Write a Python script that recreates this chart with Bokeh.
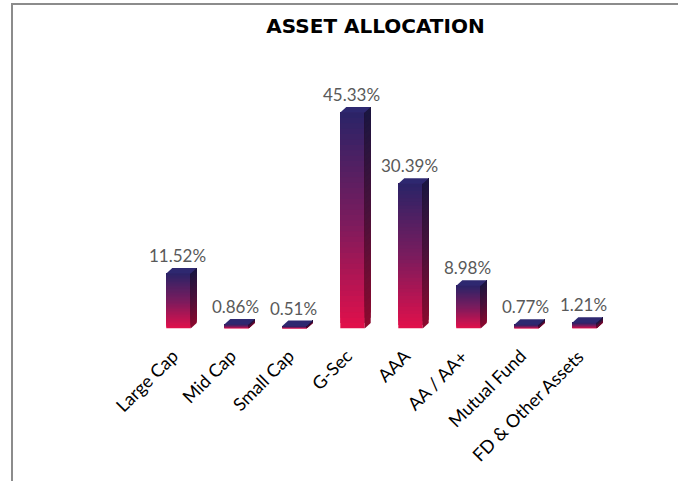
import math
from bokeh.plotting import figure
from bokeh.models import Range1d, FixedTicker
from bokeh.core.properties import value
from bokeh.embed import file_html
from bokeh.resources import INLINE

categories = ["Large Cap", "Mid Cap", "Small Cap", "G-Sec", "AAA", "AA / AA+",
              "Mutual Fund", "FD & Other Assets"]
values = [11.52, 0.86, 0.51, 45.33, 30.39, 8.98, 0.77, 1.21]
labels = ["11.52%", "0.86%", "0.51%", "45.33%", "30.39%", "8.98%", "0.77%", "1.21%"]

BAR_SHIFT = 4 / 58   # bars sit slightly right of the category tick

W, H = 667, 478
x0 = -90 / 58 + BAR_SHIFT
p = figure(width=W, height=H, output_backend="svg", toolbar_location=None,
           x_range=Range1d(x0, x0 + 574 / 58),
           y_range=Range1d(0, 286 / 4.765),
           min_border_left=75, min_border_right=18,
           min_border_top=37, min_border_bottom=155)
p.styles = {"border-top": "2px solid #8c8c8c", "border-left": "2px solid #8c8c8c",
            "margin-left": "11px", "margin-top": "3px"}

p.title.text = "ASSET ALLOCATION"
p.title.text_font = "DejaVu Sans"
p.title.text_font_style = "bold"
p.title.text_font_size = "20px"
p.title.text_color = "#000000"
p.title.align = "center"

p.outline_line_color = None
p.grid.visible = False
p.yaxis.visible = False
p.background_fill_color = "white"
p.border_fill_color = "white"

ax = p.xaxis[0]
ax.ticker = FixedTicker(ticks=list(range(len(categories))))
ax.major_label_overrides = {i: c for i, c in enumerate(categories)}
ax.major_label_orientation = math.pi / 4
ax.axis_line_color = None
ax.major_tick_line_color = None
ax.minor_tick_line_color = None
ax.major_tick_out = 0
ax.major_tick_in = 0
ax.major_label_standoff = 24
ax.major_label_text_font = "Lato"
ax.major_label_text_font_size = "18px"
ax.major_label_text_color = "#000000"

# colour stops bottom -> top
stops = [(0.0, (227, 16, 75)), (0.5, (122, 28, 94)), (1.0, (42, 36, 104))]


def grad(t, shade=1.0):
    for (t0, c0), (t1, c1) in zip(stops[:-1], stops[1:]):
        if t <= t1:
            f = (t - t0) / (t1 - t0) if t1 > t0 else 0
            c = [c0[k] + (c1[k] - c0[k]) * f for k in range(3)]
            break
    return "#%02x%02x%02x" % tuple(int(max(0, min(255, v * shade))) for v in c)


hw = 12.2 / 58      # half front width (data units)
dx = 6.0 / 58       # depth in x
dy = 5.5 / 4.765    # depth in y
N = 40

fl, fr, fb, ft, fc = [], [], [], [], []
sx, sy, sc = [], [], []
tx, ty = [], []
for i, v in enumerate(values):
    c = i + BAR_SHIFT
    for k in range(N):
        y0 = v * k / N
        col = grad((k + 0.5) / N)
        # each slice runs from its start to the bar top; later slices cover earlier ones
        fl.append(c - hw); fr.append(c + hw); fb.append(y0); ft.append(v); fc.append(col)
        sx.append([c + hw, c + hw + dx, c + hw + dx, c + hw])
        sy.append([y0, y0 + dy, v + dy, v])
        sc.append(grad((k + 0.5) / N, 0.62))
    tx.append([c - hw, c + hw, c + hw + dx, c - hw + dx])
    ty.append([v, v, v + dy, v + dy])

p.quad(left=fl, right=fr, bottom=fb, top=ft, fill_color=fc, line_color=None)
p.patches(xs=sx, ys=sy, fill_color=sc, line_color=None)
p.patches(xs=tx, ys=ty, fill_color="#2e2870", line_color=None)

p.text(x=[i + BAR_SHIFT for i in range(len(values))], y=values, text=labels,
       text_align="center", text_baseline="alphabetic", y_offset=-18, x_offset=-1,
       text_font=value("Lato"), text_font_size="17px", text_color="#595959")

open("out.html", "w").write(file_html(p, INLINE))
